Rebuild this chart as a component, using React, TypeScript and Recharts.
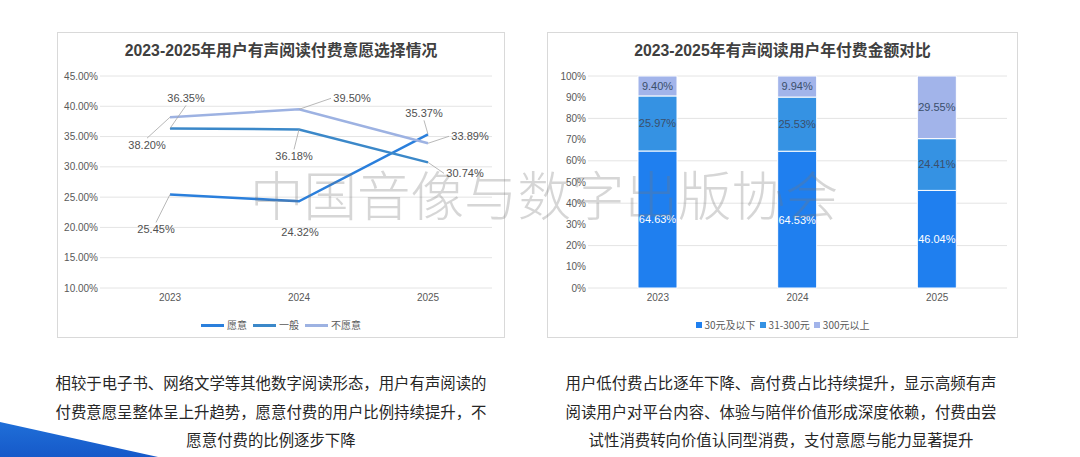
import { LineChart, Line, BarChart, Bar, XAxis, YAxis, CartesianGrid, LabelList } from 'recharts';

// 左图：付费意愿
const YEARS = ['2023', '2024', '2025'];
const WILLING = [25.45, 24.32, 35.37];
const NEUTRAL = [36.35, 36.18, 30.74];
const UNWILLING = [38.2, 39.5, 33.89];
const LINE_TICKS = [10, 15, 20, 25, 30, 35, 40, 45];

// 右图：年付费金额
const LOW = [64.63, 64.53, 46.04];
const MID = [25.97, 25.53, 24.41];
const HIGH = [9.4, 9.94, 29.55];
const BAR_TICKS = [0, 10, 20, 30, 40, 50, 60, 70, 80, 90, 100];

const LINE_SERIES = [
  { key: 'willing', name: '愿意', color: '#2a7fdc' },
  { key: 'neutral', name: '一般', color: '#3b88c9' },
  { key: 'unwilling', name: '不愿意', color: '#9db2e2' },
];
const BAR_SERIES = [
  { key: 'low', name: '30元及以下', color: '#1f7fef', text: '#ffffff' },
  { key: 'mid', name: '31-300元', color: '#3592e3', text: '#3b4f6b' },
  { key: 'high', name: '300元以上', color: '#a2b4ea', text: '#3b4f6b' },
];

// label placement (dx, dy from the point) and whether a leader line is drawn
const LABEL_POS: Record<string, number[][]> = {
  willing: [[-14, 35], [1, 31], [-4, -21]],
  neutral: [[16, -30], [-5, 27], [37, 11]],
  unwilling: [[-23, 28], [53, -11], [42, -7]],
};
const LEADERS: Record<string, boolean[]> = {
  willing: [true, false, true],
  neutral: [true, true, true],
  unwilling: [true, true, true],
};

const lineData = YEARS.map((year, i) => ({
  year,
  willing: WILLING[i],
  neutral: NEUTRAL[i],
  unwilling: UNWILLING[i],
}));
const barData = YEARS.map((year, i) => ({ year, low: LOW[i], mid: MID[i], high: HIGH[i] }));

const FONT = '"Liberation Sans", "Noto Sans CJK SC", sans-serif';
const CJK = '"Noto Sans CJK SC", sans-serif';

const leaderLabel = (key: string) => (props: any) => {
  const { x, y, value, index } = props;
  const [dx, dy] = LABEL_POS[key][index];
  const tx = x + dx;
  const ty = y + dy;
  let ex = tx;
  let ey = ty - Math.sign(dy) * 7;
  if (Math.abs(dx) > 30) {
    ex = tx - Math.sign(dx) * 21;
    ey = ty;
  }
  return (
    <g>
      {LEADERS[key][index] && <line x1={x} y1={y} x2={ex} y2={ey} stroke="#a6a6a6" strokeWidth={0.8} />}
      <text x={tx} y={ty} textAnchor="middle" dominantBaseline="central" fontSize={11} fill="#505050" fontFamily={FONT}>
        {Number(value).toFixed(2)}%
      </text>
    </g>
  );
};

const boxStyle = (left: number, width: number): React.CSSProperties => ({
  position: 'absolute',
  left,
  top: 32,
  width,
  height: 306,
  border: '1px solid #d9d9d9',
  boxSizing: 'border-box',
});

const titleStyle = (left: number, width: number): React.CSSProperties => ({
  position: 'absolute',
  left,
  width,
  top: 40,
  lineHeight: '22px',
  textAlign: 'center',
  fontSize: 15.8,
  fontWeight: 'bold',
  color: '#404040',
  fontFamily: FONT,
});

const captionStyle = (center: number): React.CSSProperties => ({
  position: 'absolute',
  left: center - 240,
  width: 480,
  top: 368,
  textAlign: 'center',
  fontSize: 15.4,
  lineHeight: '28.5px',
  color: '#262626',
  fontFamily: CJK,
});

export default function App() {
  return (
    <div style={{ position: 'absolute', left: 0, top: 0, width: 1080, height: 457, overflow: 'hidden', background: '#fff', fontFamily: FONT }}>
      <svg width={1080} height={457} style={{ position: 'absolute', left: 0, top: 0 }}>
        <defs>
          <linearGradient id="blueCorner" x1="0" y1="0" x2="0" y2="1">
            <stop offset="0%" stopColor="#1f6fd8" />
            <stop offset="100%" stopColor="#1659c9" />
          </linearGradient>
        </defs>
        <polygon points="0,422 158,457 0,457" fill="url(#blueCorner)" />
      </svg>

      <div style={boxStyle(57, 448)} />
      <div style={titleStyle(57, 448)}>2023-2025年用户有声阅读付费意愿选择情况</div>
      <div style={{ position: 'absolute', left: 57, top: 32 }}>
        <LineChart width={448} height={306} data={lineData} margin={{ top: 44, right: 13, bottom: 0, left: 0 }}>
          <CartesianGrid vertical={false} stroke="#e4e4e4" />
          <XAxis
            dataKey="year"
            axisLine={false}
            tickLine={false}
            tickSize={6}
            tickMargin={0}
            height={50}
            padding={{ left: 70, right: 64 }}
            tick={{ fontSize: 10, fill: '#595959' }}
          />
          <YAxis
            domain={[10, 45]}
            ticks={LINE_TICKS}
            width={43}
            axisLine={false}
            tickLine={false}
            tickSize={0}
            tickMargin={2}
            tickFormatter={(v: number) => `${v.toFixed(2)}%`}
            tick={{ fontSize: 10, fill: '#595959' }}
          />
          {LINE_SERIES.map((s) => (
            <Line
              key={s.key}
              dataKey={s.key}
              name={s.name}
              stroke={s.color}
              strokeWidth={2.5}
              dot={false}
              type="linear"
              isAnimationActive={false}
            >
              <LabelList dataKey={s.key} content={leaderLabel(s.key)} />
            </Line>
          ))}
        </LineChart>
      </div>
      <div style={{ position: 'absolute', left: 57, width: 448, top: 317, display: 'flex', justifyContent: 'center', alignItems: 'center', fontSize: 10, color: '#595959', fontFamily: CJK, lineHeight: '16px' }}>
        {LINE_SERIES.map((s) => (
          <div key={s.key} style={{ display: 'flex', alignItems: 'center', margin: '0 3px' }}>
            <span style={{ display: 'inline-block', width: 23, height: 3, background: s.color, marginRight: 3 }} />
            <span>{s.name}</span>
          </div>
        ))}
      </div>

      <div style={boxStyle(547, 471)} />
      <div style={titleStyle(547, 471)}>2023-2025年有声阅读用户年付费金额对比</div>
      <div style={{ position: 'absolute', left: 547, top: 32 }}>
        <BarChart width={471} height={306} data={barData} margin={{ top: 44, right: 11, bottom: 0, left: 0 }}>
          <CartesianGrid vertical={false} stroke="#e4e4e4" />
          <XAxis
            dataKey="year"
            axisLine={false}
            tickLine={false}
            tickSize={6}
            tickMargin={0}
            height={50}
            tick={{ fontSize: 10, fill: '#595959' }}
          />
          <YAxis
            domain={[0, 100]}
            ticks={BAR_TICKS}
            width={41}
            axisLine={false}
            tickLine={false}
            tickSize={0}
            tickMargin={2}
            tickFormatter={(v: number) => `${v}%`}
            tick={{ fontSize: 10, fill: '#595959' }}
          />
          {BAR_SERIES.map((s) => (
            <Bar
              key={s.key}
              dataKey={s.key}
              name={s.name}
              stackId="pay"
              fill={s.color}
              stroke="#ffffff"
              strokeWidth={1}
              barSize={39}
              isAnimationActive={false}
            >
              <LabelList
                dataKey={s.key}
                position="center"
                fill={s.text}
                fontSize={11}
                fontFamily={FONT}
                formatter={(v: any) => `${Number(v).toFixed(2)}%`}
              />
            </Bar>
          ))}
        </BarChart>
      </div>
      <div style={{ position: 'absolute', left: 547, width: 471, top: 317, display: 'flex', justifyContent: 'center', alignItems: 'center', fontSize: 10, color: '#595959', fontFamily: CJK, lineHeight: '16px' }}>
        {BAR_SERIES.map((s) => (
          <div key={s.key} style={{ display: 'flex', alignItems: 'center', margin: '0 2px' }}>
            <span style={{ display: 'inline-block', width: 6, height: 6, background: s.color, marginRight: 3 }} />
            <span>{s.name}</span>
          </div>
        ))}
      </div>

      <div
        style={{
          position: 'absolute',
          left: 250,
          top: 164,
          fontSize: 53.5,
          lineHeight: '58px',
          whiteSpace: 'nowrap',
          fontFamily: CJK,
          fontWeight: 300,
          color: 'rgba(120,120,120,0.3)',
          pointerEvents: 'none',
        }}
      >
        中国音像与数字出版协会
      </div>

      <div style={captionStyle(271)}>
        相较于电子书、网络文学等其他数字阅读形态，用户有声阅读的
        <br />
        付费意愿呈整体呈上升趋势，愿意付费的用户比例持续提升，不
        <br />
        愿意付费的比例逐步下降
      </div>
      <div style={captionStyle(781)}>
        用户低付费占比逐年下降、高付费占比持续提升，显示高频有声
        <br />
        阅读用户对平台内容、体验与陪伴价值形成深度依赖，付费由尝
        <br />
        试性消费转向价值认同型消费，支付意愿与能力显著提升
      </div>
    </div>
  );
}
